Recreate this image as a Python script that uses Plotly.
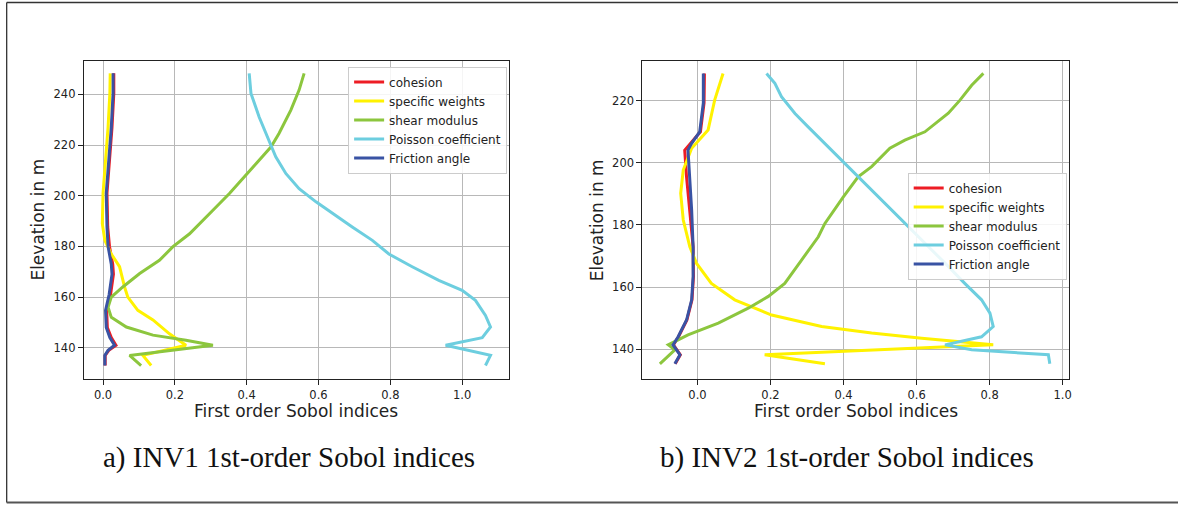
import plotly.graph_objects as go

W, H = 1181, 506

series_names = ["cohesion", "specific weights", "shear modulus", "Poisson coefficient", "Friction angle"]
series_colors = ["#ed1c24", "#fff200", "#8cc63e", "#6dcedf", "#3953a4"]

# ---- INV1 (left panel) ----
inv1_coh_elev = [248.3, 240.4, 227, 214, 201, 187.7, 180, 173, 169, 161, 154.8, 148, 144, 141, 139, 137, 133]
inv1_coh_val = [0.030, 0.030, 0.025, 0.019, 0.011, 0.013, 0.018, 0.027, 0.029, 0.021, 0.010, 0.012, 0.023, 0.036, 0.016, 0.006, 0.006]

inv1_sw_elev = [248.3, 240.4, 227, 214, 201, 189, 182.4, 177, 172, 164, 160, 154.8, 151, 145.5, 141, 137, 133]
inv1_sw_val = [0.020, 0.019, 0.014, 0.007, 0.0, -0.002, 0.005, 0.023, 0.046, 0.060, 0.069, 0.097, 0.139, 0.185, 0.231, 0.111, 0.134]

inv1_sm_elev = [248.3, 241.7, 233.8, 224.6, 219.3, 214, 208, 200.9, 194.3, 189, 185, 179.8, 174.5, 169.3, 164, 160, 156, 152, 148.2, 145, 143, 141, 137, 133]
inv1_sm_val = [0.560, 0.546, 0.523, 0.490, 0.468, 0.435, 0.398, 0.352, 0.306, 0.269, 0.241, 0.194, 0.157, 0.102, 0.055, 0.023, 0.014, 0.023, 0.065, 0.139, 0.231, 0.306, 0.074, 0.106]

inv1_pc_elev = [248.3, 240.4, 231, 220, 215.4, 208.8, 202.8, 197.6, 193, 187.7, 182.4, 177, 172, 166.6, 162.7, 158.7, 152.8, 148.2, 144, 141, 137, 133]
inv1_pc_val = [0.407, 0.412, 0.435, 0.468, 0.481, 0.509, 0.546, 0.593, 0.639, 0.694, 0.750, 0.796, 0.861, 0.935, 1.000, 1.037, 1.065, 1.079, 1.056, 0.954, 1.079, 1.065]

inv1_fa_elev = [248.3, 240.4, 227, 214, 201, 187.7, 180, 173, 169, 161, 154.8, 148, 144, 141, 139, 137, 133]
inv1_fa_val = [0.028, 0.028, 0.023, 0.017, 0.009, 0.011, 0.014, 0.023, 0.025, 0.017, 0.007, 0.009, 0.019, 0.032, 0.014, 0.005, 0.005]

# ---- INV2 (right panel) ----
inv2_coh_elev = [228.8, 219.3, 210, 206.3, 204.1, 195.5, 184.8, 173, 163.4, 155.9, 149.4, 144, 141.4, 138.2, 135.3]
inv2_coh_val = [0.019, 0.018, 0.008, -0.020, -0.035, -0.030, -0.022, -0.012, -0.011, -0.015, -0.029, -0.052, -0.066, -0.047, -0.061]

inv2_sw_elev = [228.8, 220.2, 210.6, 204.7, 197.7, 190.2, 181.6, 173, 167.7, 161.2, 155.9, 151, 147.3, 145.2, 143.5, 141.4, 138.2, 135.3]
inv2_sw_val = [0.070, 0.047, 0.029, -0.016, -0.039, -0.046, -0.039, -0.021, -0.003, 0.038, 0.102, 0.203, 0.340, 0.477, 0.614, 0.810, 0.184, 0.349]

inv2_sm_elev = [228.8, 225, 220.2, 216, 210, 207.3, 204.7, 198.8, 195.5, 189, 180.5, 176.2, 168.7, 161.2, 157, 153.2, 148.4, 144.6, 141.4, 139.8, 135.3]
inv2_sm_val = [0.783, 0.751, 0.719, 0.687, 0.623, 0.568, 0.527, 0.477, 0.440, 0.399, 0.349, 0.331, 0.285, 0.239, 0.194, 0.139, 0.057, -0.026, -0.080, -0.062, -0.103]

inv2_pc_elev = [228.8, 225.6, 221.3, 215.9, 211.6, 207.3, 202, 195.5, 189, 181.6, 175.2, 167.7, 161.2, 155.9, 151.6, 147.3, 144, 141.4, 139.8, 138.2, 135.3]
inv2_pc_val = [0.189, 0.212, 0.230, 0.267, 0.303, 0.340, 0.385, 0.440, 0.495, 0.559, 0.614, 0.678, 0.732, 0.778, 0.801, 0.810, 0.778, 0.678, 0.751, 0.961, 0.965]

inv2_fa_elev = [228.8, 219.3, 210, 206.3, 204.1, 195.5, 184.8, 173, 163.4, 155.9, 149.4, 144, 141.4, 138.2, 135.3]
inv2_fa_val = [0.016, 0.016, 0.006, -0.016, -0.026, -0.021, -0.016, -0.012, -0.012, -0.016, -0.030, -0.053, -0.067, -0.048, -0.062]

x_ticks = [0.0, 0.2, 0.4, 0.6, 0.8, 1.0]
y1_ticks = [140, 160, 180, 200, 220, 240]
y2_ticks = [140, 160, 180, 200, 220]

x_title = "First order Sobol indices"
y_title = "Elevation in m"
captions = ["a) INV1 1st-order Sobol indices", "b) INV2 1st-order Sobol indices"]

inv1 = [(inv1_coh_val, inv1_coh_elev), (inv1_sw_val, inv1_sw_elev), (inv1_sm_val, inv1_sm_elev),
        (inv1_pc_val, inv1_pc_elev), (inv1_fa_val, inv1_fa_elev)]
inv2 = [(inv2_coh_val, inv2_coh_elev), (inv2_sw_val, inv2_sw_elev), (inv2_sm_val, inv2_sm_elev),
        (inv2_pc_val, inv2_pc_elev), (inv2_fa_val, inv2_fa_elev)]

fig = go.Figure()
for i, (x, y) in enumerate(inv1):
    fig.add_trace(go.Scatter(x=x, y=y, mode="lines", name=series_names[i],
                             line=dict(color=series_colors[i], width=3),
                             xaxis="x", yaxis="y", legend="legend"))
for i, (x, y) in enumerate(inv2):
    fig.add_trace(go.Scatter(x=x, y=y, mode="lines", name=series_names[i],
                             line=dict(color=series_colors[i], width=3),
                             xaxis="x2", yaxis="y2", legend="legend2"))

def px(x):
    return x / W

def py(y):
    return (H - y) / H

tickfont = dict(family="DejaVu Sans", size=11.5, color="#222")
common_axis = dict(showgrid=True, gridcolor="#b8b8b8", gridwidth=1, zeroline=False,
                   showline=True, linecolor="#222", linewidth=1, mirror=True,
                   ticks="outside", ticklen=5, tickwidth=1, tickcolor="#222",
                   tickfont=tickfont)

# panel pixel boxes
L1, R1 = 84, 510
L2, R2 = 644, 1071.7
T, B = 60.7, 378.7

legend_style = dict(xanchor="left", yanchor="top",
                    bgcolor="rgba(255,255,255,0.85)", bordercolor="#cccccc", borderwidth=1,
                    font=dict(family="DejaVu Sans", size=12, color="#222"), tracegroupgap=0)

fig.update_layout(
    width=W, height=H,
    margin=dict(l=0, r=0, t=0, b=0),
    paper_bgcolor="white", plot_bgcolor="white",
    xaxis=dict(domain=[px(L1), px(R1)], range=[-0.0536, 1.1297], tickvals=x_ticks,
               tickformat=".1f", anchor="y", **common_axis),
    yaxis=dict(domain=[py(B), py(T)], range=[127.8, 253.3], tickvals=y1_ticks,
               anchor="x", **common_axis),
    xaxis2=dict(domain=[px(L2), px(R2)], range=[-0.151, 1.0175], tickvals=x_ticks,
                tickformat=".1f", anchor="y2", **common_axis),
    yaxis2=dict(domain=[py(B), py(T)], range=[130.5, 232.9], tickvals=y2_ticks,
                anchor="x2", **common_axis),
    legend=dict(x=px(349), y=py(66.5), **legend_style),
    legend2=dict(x=px(910), y=py(172.5), **legend_style),
    showlegend=True,
)

ann = []
for cx in [(L1 + R1) / 2, (L2 + R2) / 2]:
    ann.append(dict(x=px(cx), y=py(411), xref="paper", yref="paper", text=x_title,
                    showarrow=False, xanchor="center", yanchor="middle",
                    font=dict(family="DejaVu Sans", size=17, color="#222")))
for cx in [38, 598]:
    ann.append(dict(x=px(cx), y=py((T + B) / 2), xref="paper", yref="paper", text=y_title,
                    showarrow=False, xanchor="center", yanchor="middle", textangle=-90,
                    font=dict(family="DejaVu Sans", size=17, color="#222")))
for cx, txt in zip([289.5, 849], captions):
    ann.append(dict(x=px(cx), y=py(457), xref="paper", yref="paper", text=txt,
                    showarrow=False, xanchor="center", yanchor="middle",
                    font=dict(family="Liberation Serif", size=29, color="#111")))
fig.update_layout(annotations=ann)

frame_color = "#333"
fig.update_layout(shapes=[
    dict(type="line", xref="paper", yref="paper", x0=px(6.7), x1=px(6.7), y0=py(2.5), y1=py(502.5),
         line=dict(color=frame_color, width=1.3)),
    dict(type="line", xref="paper", yref="paper", x0=px(6.7), x1=1.0, y0=py(2.5), y1=py(2.5),
         line=dict(color=frame_color, width=1.3)),
    dict(type="line", xref="paper", yref="paper", x0=px(6.7), x1=1.0, y0=py(502.5), y1=py(502.5),
         line=dict(color="#555", width=1.8)),
])

fig.write_html("out.html", config={"displayModeBar": False},
               post_script="document.body.style.margin='0';")
